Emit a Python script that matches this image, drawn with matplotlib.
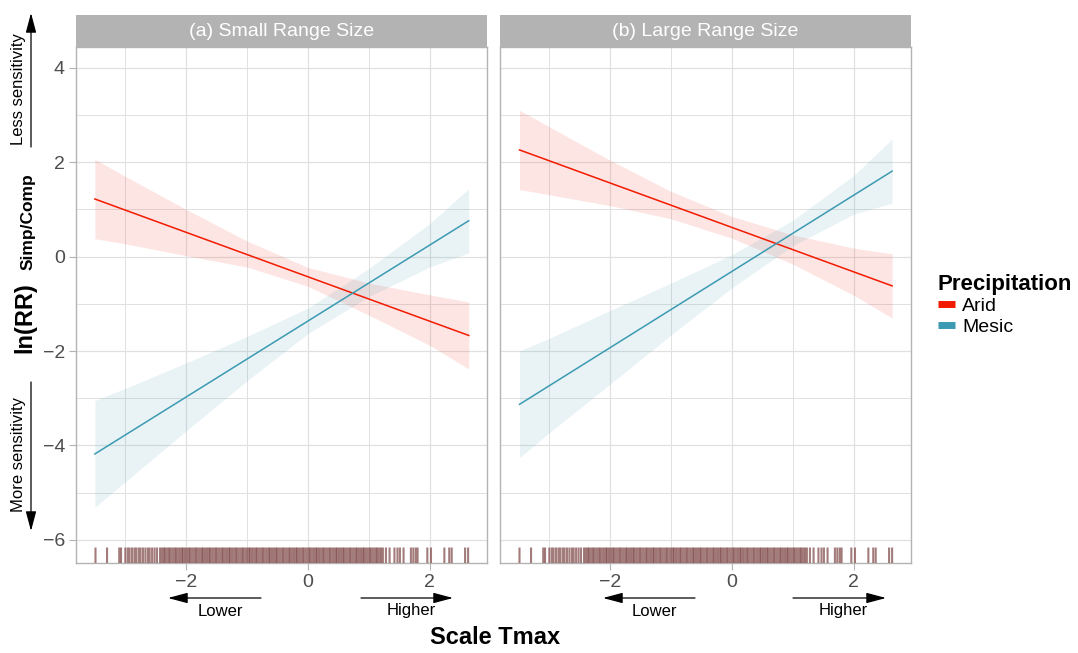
import matplotlib
matplotlib.use("Agg")
import matplotlib.pyplot as plt
from matplotlib.lines import Line2D
from matplotlib.patches import FancyArrowPatch

plt.rcParams['font.family'] = ['Liberation Sans', 'DejaVu Sans']

# ---- data ----
panel_titles = ["(a) Small Range Size", "(b) Large Range Size"]
groups = ["Arid", "Mesic"]
group_colors = {"Arid": "#F21A00", "Mesic": "#3B9AB2"}

# panel (a)
a_x = [-3.50, -3.0, -2.0, -1.0, 0.0, 1.0, 2.0, 2.64]
a_arid_fit = [1.22, 0.99, 0.51, 0.04, -0.43, -0.90, -1.37, -1.67]
a_arid_lo = [0.38, 0.27, 0.02, -0.22, -0.63, -1.24, -1.88, -2.38]
a_arid_hi = [2.06, 1.70, 1.00, 0.33, -0.23, -0.56, -0.81, -0.96]
a_mesic_fit = [-4.18, -3.78, -2.97, -2.16, -1.36, -0.55, 0.25, 0.76]
a_mesic_lo = [-5.31, -4.77, -3.69, -2.63, -1.63, -0.85, -0.22, 0.08]
a_mesic_hi = [-3.05, -2.79, -2.25, -1.69, -1.09, -0.25, 0.70, 1.44]

# panel (b)
b_x = [-3.49, -3.0, -2.0, -1.0, 0.0, 1.0, 2.0, 2.63]
b_arid_fit = [2.26, 2.03, 1.56, 1.09, 0.62, 0.15, -0.32, -0.62]
b_arid_lo = [1.42, 1.31, 1.08, 0.80, 0.39, -0.16, -0.82, -1.30]
b_arid_hi = [3.10, 2.75, 2.04, 1.38, 0.85, 0.46, 0.18, 0.06]
b_mesic_fit = [-3.13, -2.73, -1.92, -1.11, -0.31, 0.50, 1.31, 1.81]
b_mesic_lo = [-4.26, -3.73, -2.70, -1.66, -0.66, 0.23, 0.90, 1.13]
b_mesic_hi = [-2.00, -1.73, -1.14, -0.56, 0.04, 0.77, 1.72, 2.49]

# rug of observed Tmax values
rug_x = [-3.49, -3.30, -3.10, -3.07, -3.00, -2.96, -2.93, -2.89, -2.85, -2.82,
         -2.78, -2.75, -2.71, -2.67, -2.63, -2.60, -2.56, -2.52, -2.48, -2.43,
         -2.40, -2.37, -2.35, -2.32, -2.29, -2.27, -2.24, -2.21, -2.18, -2.16,
         -2.13, -2.10, -2.07, -2.05, -2.02, -1.99, -1.96, -1.94, -1.91, -1.88,
         -1.85, -1.83, -1.80, -1.77, -1.74, -1.72, -1.69, -1.66, -1.63, -1.61,
         -1.58, -1.55, -1.52, -1.50, -1.47, -1.44, -1.41, -1.39, -1.36, -1.33,
         -1.30, -1.28, -1.25, -1.22, -1.19, -1.17, -1.14, -1.11, -1.08, -1.06,
         -1.03, -1.00, -0.97, -0.95, -0.92, -0.89, -0.86, -0.84, -0.81, -0.78,
         -0.75, -0.73, -0.70, -0.67, -0.64, -0.62, -0.59, -0.56, -0.53, -0.51,
         -0.48, -0.45, -0.42, -0.40, -0.37, -0.34, -0.31, -0.29, -0.26, -0.23,
         -0.20, -0.18, -0.15, -0.12, -0.09, -0.07, -0.04, -0.01, 0.02, 0.04,
         0.07, 0.10, 0.13, 0.15, 0.18, 0.21, 0.24, 0.26, 0.29, 0.32,
         0.35, 0.37, 0.40, 0.43, 0.46, 0.48, 0.51, 0.54, 0.57, 0.59,
         0.62, 0.65, 0.68, 0.70, 0.73, 0.76, 0.79, 0.81, 0.84, 0.87,
         0.90, 0.92, 0.95, 0.98, 1.01, 1.03, 1.06, 1.09, 1.12, 1.14,
         1.17, 1.20, 1.23, 1.28, 1.34, 1.42, 1.47, 1.51, 1.57, 1.69,
         1.73, 1.77, 1.80, 1.96, 2.02, 2.24, 2.32, 2.36, 2.58, 2.63]

panels = [
    {"x": a_x,
     "Arid": (a_arid_fit, a_arid_lo, a_arid_hi),
     "Mesic": (a_mesic_fit, a_mesic_lo, a_mesic_hi)},
    {"x": b_x,
     "Arid": (b_arid_fit, b_arid_lo, b_arid_hi),
     "Mesic": (b_mesic_fit, b_mesic_lo, b_mesic_hi)},
]

W, H = 1078, 653


def fx(px):
    return px / W


def fy(py):
    return 1 - py / H


fig = plt.figure(figsize=(W / 100, H / 100), dpi=100)

panel_left = [76, 500]
panel_width = 411
panel_top, panel_bottom = 47, 563
strip_top = 15

GRID = "#e0e0e0"
BORDER = "#b3b3b3"

for i, p in enumerate(panels):
    ax = fig.add_axes([fx(panel_left[i]), fy(panel_bottom),
                       fx(panel_width), (panel_bottom - panel_top) / H])
    x = p["x"]
    for g in groups:
        fit, lo, hi = p[g]
        ax.fill_between(x, lo, hi, color=group_colors[g], alpha=0.11,
                        linewidth=0, zorder=2)
    for g in groups:
        fit, lo, hi = p[g]
        ax.plot([x[0], x[-1]], [fit[0], fit[-1]], color=group_colors[g],
                lw=1.1, zorder=3)

    # rug
    ax.vlines(rug_x, 0, 0.03, transform=ax.get_xaxis_transform(),
              color="#7d4444", alpha=0.7, lw=1.5, zorder=4, snap=False)

    ax.set_xlim(-3.81, 2.94)
    ax.set_ylim(-6.49, 4.44)
    ax.set_xticks([-2, 0, 2])
    ax.set_xticks([-3, -1, 1], minor=True)
    ax.set_yticks([-6, -4, -2, 0, 2, 4])
    ax.set_yticks([-5, -3, -1, 1, 3], minor=True)
    ax.grid(True, which="major", color=GRID, lw=0.9, zorder=0)
    ax.grid(True, which="minor", color=GRID, lw=0.7, zorder=0)
    ax.set_axisbelow(True)
    for s in ax.spines.values():
        s.set_color(BORDER)
        s.set_linewidth(1.0)
    ax.tick_params(which="major", length=5, width=0.8, color=BORDER,
                   labelsize=14, labelcolor="#4d4d4d", pad=3)
    ax.tick_params(which="minor", length=0)
    if i == 1:
        ax.tick_params(axis="y", which="both", left=False, labelleft=False)

    # facet strip
    sax = fig.add_axes([fx(panel_left[i]), fy(panel_top),
                        fx(panel_width), (panel_top - strip_top) / H])
    sax.set_facecolor("#b3b3b3")
    sax.set_xticks([])
    sax.set_yticks([])
    for s in sax.spines.values():
        s.set_visible(False)
    sax.text(0.5, 0.5, panel_titles[i], color="white", fontsize=14,
             ha="center", va="center", transform=sax.transAxes)

# direction arrows under the x axis
arrow_kw = dict(arrowstyle="-|>,head_length=0.75,head_width=0.2",
                color="black", lw=0.9, shrinkA=0, shrinkB=0, mutation_scale=16)
for tip_l, tail_l, tail_r, tip_r, lx, hx in [(168, 261, 361, 453, 220, 411),
                                             (603, 695, 793, 886, 654, 843)]:
    fig.add_artist(FancyArrowPatch((fx(tail_l), fy(598)), (fx(tip_l), fy(598)),
                                   transform=fig.transFigure, **arrow_kw))
    fig.add_artist(FancyArrowPatch((fx(tail_r), fy(598)), (fx(tip_r), fy(598)),
                                   transform=fig.transFigure, **arrow_kw))
    fig.text(fx(lx), fy(611), "Lower", fontsize=12, ha="center", va="center")
    fig.text(fx(hx), fy(611), "Higher", fontsize=12, ha="center", va="center")

# sensitivity arrows on the y side
fig.add_artist(FancyArrowPatch((fx(31), fy(147)), (fx(31), fy(13)),
                               transform=fig.transFigure, **arrow_kw))
fig.add_artist(FancyArrowPatch((fx(31), fy(382)), (fx(31), fy(531)),
                               transform=fig.transFigure, **arrow_kw))
fig.text(fx(18.5), fy(89), "Less sensitivity", fontsize=12, rotation=90,
         ha="center", va="center")
fig.text(fx(18.5), fy(454), "More sensitivity", fontsize=12, rotation=90,
         ha="center", va="center")

# axis titles
fig.text(fx(25), fy(318), "ln(RR)", fontsize=17, fontweight="bold",
         rotation=90, ha="center", va="center")
fig.text(fx(28), fy(222), "Simp/Comp", fontsize=12.5, fontweight="bold",
         rotation=90, ha="center", va="center")
fig.text(fx(495), fy(637), "Scale Tmax", fontsize=17, fontweight="bold",
         ha="center", va="center")

# legend
handles = [Line2D([], [], color=group_colors[g], lw=5, solid_capstyle="butt")
           for g in groups]
leg = fig.legend(handles, groups, title="Precipitation",
                 loc="upper left", bbox_to_anchor=(fx(928), fy(264)),
                 frameon=False, fontsize=14, handlelength=0.9,
                 handletextpad=0.35, labelspacing=0.15, borderpad=0,
                 title_fontproperties={"weight": "bold", "size": 16})
leg._legend_box.align = "left"

fig.savefig("out.png", dpi=100)
